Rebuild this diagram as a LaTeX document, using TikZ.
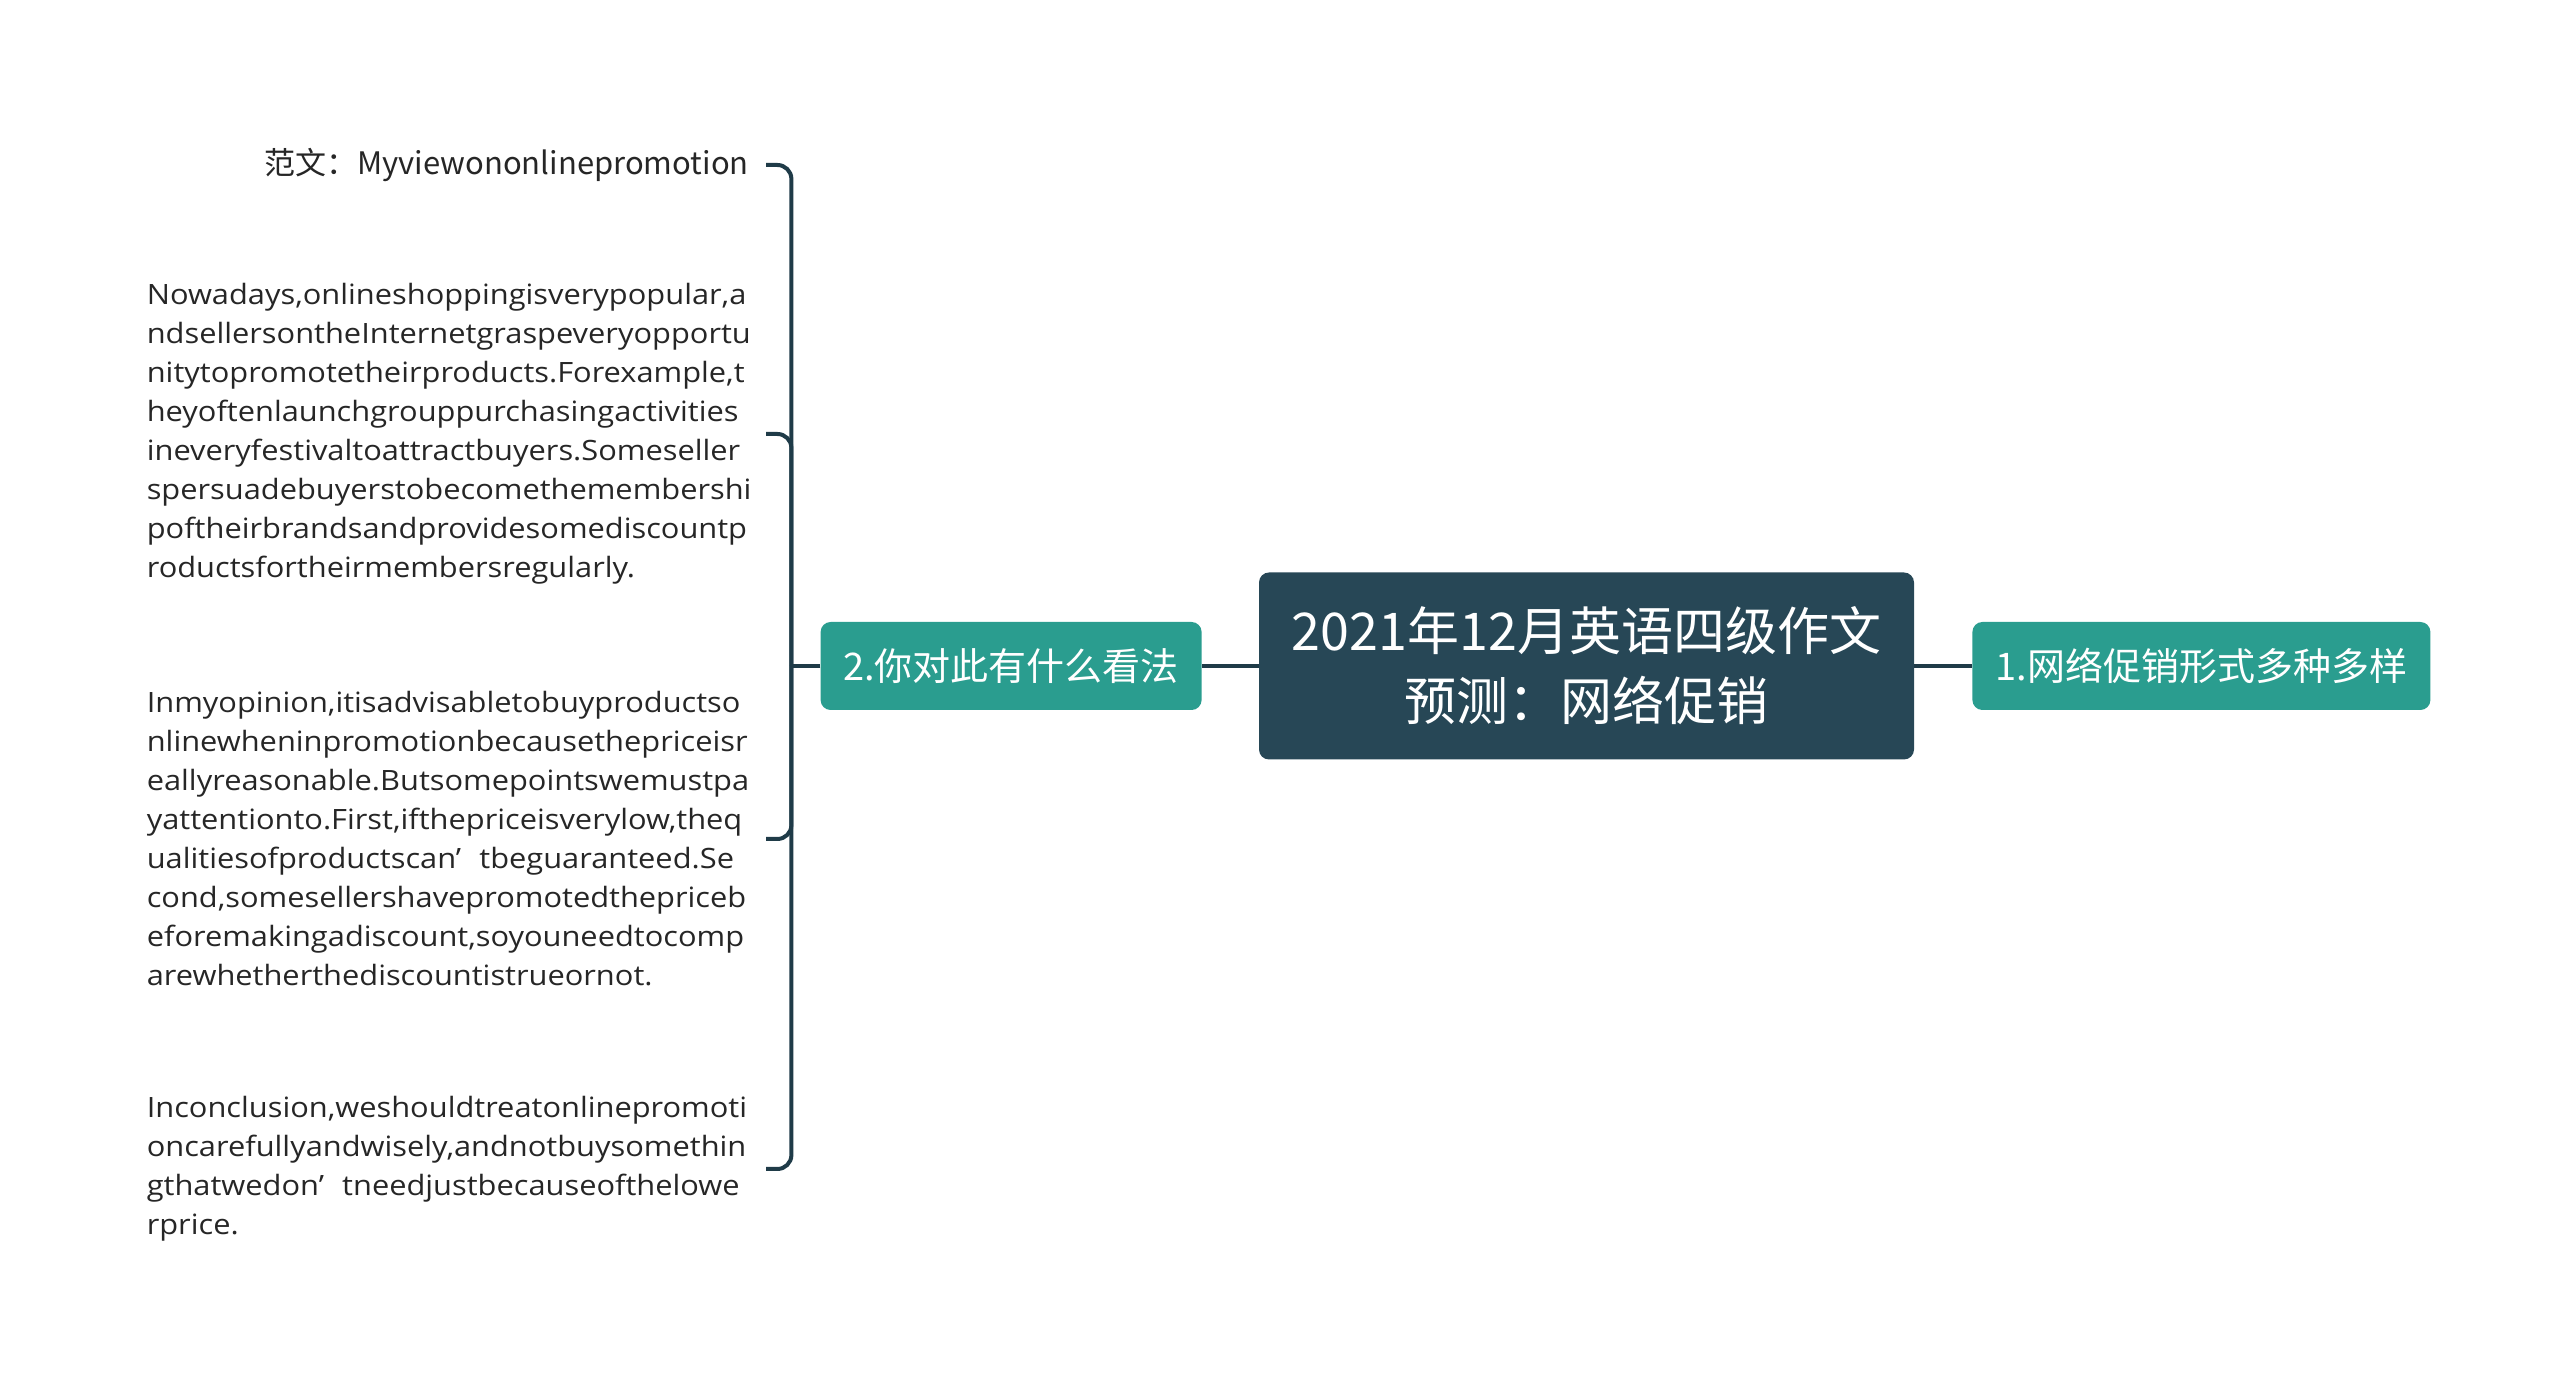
\documentclass[tikz,border=0pt]{standalone}
\usepackage{fontspec}
\setmainfont{Open Sans}[FakeStretch=1.1]
\newfontfamily\cjk{Noto Sans CJK SC}
\usetikzlibrary{positioning}

\definecolor{rootfill}{HTML}{274756}
\definecolor{topicfill}{HTML}{2A9D8F}
\definecolor{linkcol}{HTML}{1F3B48}
\definecolor{leaftext}{HTML}{262626}

\begin{document}
\begin{tikzpicture}[x=1pt,y=1pt,
	link/.style={draw=linkcol, line width=4pt},
	topic/.style={rounded corners=10pt, fill=topicfill, text=white, minimum height=88pt, inner sep=0pt, font=\cjk\fontsize{38}{46}\selectfont},
	leaf/.style={anchor=east, inner sep=0pt, text width=602pt, text=leaftext, font=\fontsize{28}{39}\selectfont}]
	\useasboundingbox (0,0) rectangle (2560,1391);
	
	\node[rounded corners=10pt, fill=rootfill, text=white, minimum width=655pt, minimum height=187pt, align=center, font=\cjk\fontsize{52}{70}\selectfont] (root) at (1586.5,725) {2021年12月英语四级作文\\预测：网络促销};
	\node[topic, minimum width=458pt, right=58pt of root] (promo) {1.网络促销形式多种多样};
	\node[topic, minimum width=381pt, left=57pt of root] (view) {2.你对此有什么看法};
	\coordinate[left=29pt of view] (spine);
	
	\node[leaf, align=right, font=\fontsize{31}{39}\selectfont] (essay) at (749,1226) {\cjk{范文：}Myviewononlinepromotion};
	\node[leaf, align=left] (para1) at (749,957) {Nowadays,onlineshoppingisverypopular,a\\ndsellersontheInternetgraspeveryopportu\\nitytopromotetheirproducts.Forexample,t\\heyoftenlaunchgrouppurchasingactivities\\ineveryfestivaltoattractbuyers.Someseller\\spersuadebuyerstobecomethemembershi\\poftheirbrandsandprovidesomediscountp\\roductsfortheirmembersregularly.};
	\node[leaf, align=left] (para2) at (749,552) {Inmyopinion,itisadvisabletobuyproductso\\nlinewheninpromotionbecausethepriceisr\\eallyreasonable.Butsomepointswemustpa\\yattentionto.First,ifthepriceisverylow,theq\\ualitiesofproductscan’\hspace{0.65em}tbeguaranteed.Se\\cond,somesellershavepromotedthepriceb\\eforemakingadiscount,soyouneedtocomp\\arewhetherthediscountistrueornot.};
	\node[leaf, align=left] (para3) at (749,222) {Inconclusion,weshouldtreatonlinepromoti\\oncarefullyandwisely,andnotbuysomethin\\gthatwedon’\hspace{0.65em}tneedjustbecauseofthelowe\\rprice.};
	
	\draw[link] (root) -- (promo);
	\draw[link] (root) -- (view);
	\draw[link] (view) -- (spine);
	\foreach \leaf in {essay,para1,para2,para3}
		\draw[link, rounded corners=14pt] ([xshift=17pt]\leaf.east) -| (spine);
\end{tikzpicture}
\end{document}
